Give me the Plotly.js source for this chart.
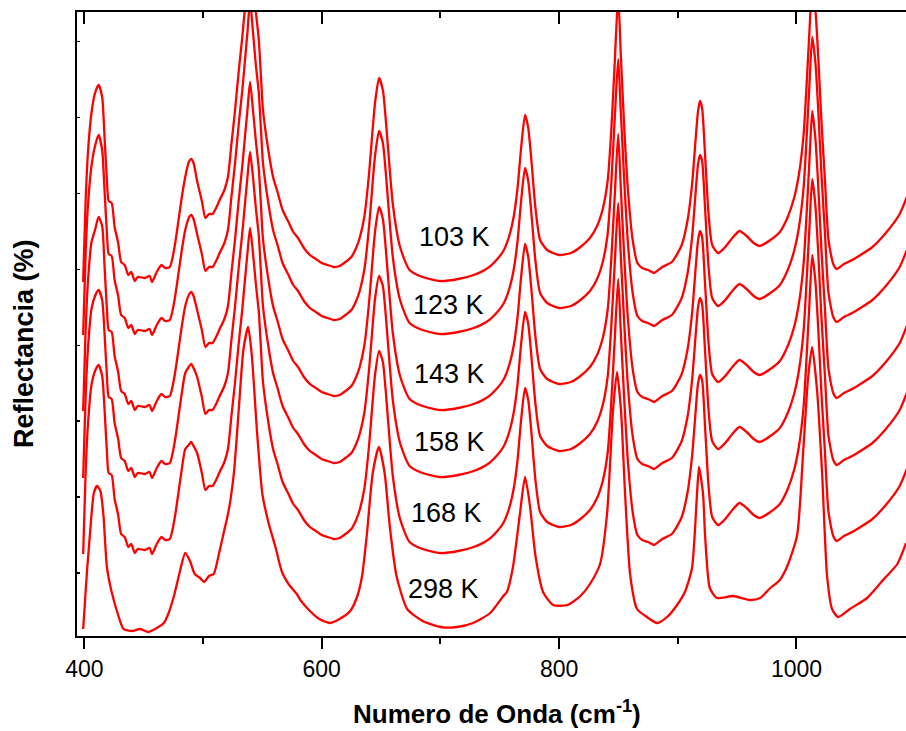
<!DOCTYPE html>
<html>
<head>
<meta charset="utf-8">
<script src="https://cdn.plot.ly/plotly-3.0.1.min.js"></script>
<style>html,body{margin:0;padding:0;background:#fff;}#chart{width:906px;height:731px;}</style>
</head>
<body>
<div id="chart"></div>
<script>
// Wavenumber grid (cm-1) shared by the 103-168 K spectra
var waveNumbers = [399,401,403,406,409,412,415,417,419,420.5,423,425.5,428.5,431,434,437,439.5,442.5,445,451,455,457,461,465,468,472,476,479,482,485,488,490,492,495,499,502,505,508,511,514,518,521,524,527,530,533,535,537.5,539.6,542,544.5,547,548.5,550.5,555,559,563,567,572,576,580,585,590,595,600,605,610,615,620,625,629,632,636,640,643,645,648.3,651.5,654,656,660,666,674,685,700,715,728,740,748,753,758,762,765,768,771.3,774,777,780,784,790,800,810,818,826,832,837,841,844,847,849.8,852,855,858,862,866,870,875,880,887,895,903,908,912,915,917,918.7,920.5,923,926,929,934,940,946,952,958,964,969,978,986,993,998,1002,1006,1009,1011,1013.3,1016,1018.5,1021,1024,1027,1031,1034,1040,1047,1054,1064,1076,1087,1093];

// Reflectance (arbitrary units, curves stacked)
var r103 = [354,433,483,523,543,551,539,499,456,435,433,409,393,374,371,361,364,355,359,358,360,354,364,371,368,369,389,413,438,459,474,477,473,455,435,418,422,422,428,436,446,459,493,526,564,598,624,651,671,651,624,596,566,526,486,459,443,426,414,404,398,388,381,377,373,371,369,370,374,379,388,398,420,464,508,534,558,546,516,486,431,389,366,359,355,357,361,368,377,385,400,421,448,488,521,508,471,429,396,386,381,383,389,398,410,428,456,506,576,641,581,506,446,396,373,368,366,363,369,374,390,414,451,496,524,535,528,481,421,391,383,389,398,405,400,393,390,396,404,420,438,461,501,561,606,652,626,576,516,456,396,372,367,372,376,381,389,404,422,439];
var r123 = [301,380,430,470,490,501,486,446,403,382,380,356,340,321,318,308,311,302,306,305,307,301,311,318,315,316,336,360,385,406,418,421,417,402,382,365,369,369,375,383,393,406,440,473,511,545,571,605,636,605,571,543,513,473,433,406,390,373,361,351,345,335,328,324,320,318,316,317,321,326,335,345,367,411,455,481,505,493,463,433,378,336,313,306,302,304,308,315,324,332,347,368,395,435,468,455,418,376,343,333,328,330,336,345,357,375,403,453,520,577,524,453,393,343,320,315,313,310,316,321,337,361,398,443,471,481,475,428,368,338,330,336,345,352,347,340,337,343,351,367,385,408,448,508,553,599,573,523,463,403,343,319,314,319,323,328,336,351,369,386];
var r143 = [225,304,354,394,406,419,410,370,327,306,304,280,264,245,242,232,235,226,230,229,231,225,235,242,239,240,260,284,309,330,341,344,340,326,306,289,293,293,299,307,317,330,364,397,435,469,495,527,554,527,495,467,437,397,357,330,314,297,285,275,269,259,252,248,244,242,240,241,245,250,259,269,291,335,379,405,429,417,387,357,302,260,237,230,226,228,232,239,248,256,271,292,319,359,392,379,342,300,267,257,252,254,260,269,281,299,327,377,443,502,448,377,317,267,244,239,237,234,240,245,261,285,322,367,395,405,399,352,292,262,254,260,269,276,271,264,261,267,275,291,309,332,372,432,477,525,497,447,387,327,267,243,238,243,247,252,260,275,293,310];
var r158 = [158,237,287,327,340,346,336,303,260,239,237,213,197,178,175,165,168,159,163,162,164,158,168,175,172,173,193,217,242,263,269,272,268,259,239,222,226,226,232,240,250,263,297,330,368,402,428,460,484,460,428,400,370,330,290,263,247,230,218,208,202,192,185,181,177,175,173,174,178,183,192,202,224,268,312,338,360,350,320,290,235,193,170,163,159,161,165,172,181,189,204,225,252,292,324,312,275,233,200,190,185,187,193,202,214,232,260,310,375,433,380,310,250,200,177,172,170,167,173,178,194,218,255,300,328,338,332,285,225,195,187,193,202,209,204,197,194,200,208,224,242,265,305,365,410,457,430,380,320,260,200,176,171,176,180,185,193,208,226,243];
var r168 = [82,161,211,251,265,271,260,227,184,163,161,137,121,102,99,89,92,83,87,86,88,82,92,99,96,97,117,141,166,187,191,194,190,183,163,146,150,150,156,164,174,187,221,254,292,326,352,384,408,384,352,324,294,254,214,187,171,154,142,132,126,116,109,105,101,99,97,98,102,107,116,126,148,192,236,262,285,274,244,214,159,117,94,87,83,85,89,96,105,113,128,149,176,216,248,236,199,157,124,114,109,111,117,126,138,156,184,234,299,357,304,234,174,124,101,96,94,91,97,102,118,142,179,224,252,261,256,209,149,119,111,117,126,133,128,121,118,124,132,148,166,189,229,289,334,381,354,304,244,184,124,100,95,100,104,109,117,132,150,167];

// 298 K spectrum (own grid)
var waveNumbers298 = [399,402,405,408,410.7,413.5,416,419,423,429,433,440,447,454,461,467,471,475.5,480,485,489,493,497.5,501,505,509,513,517,521.7,526,530,534,538,541,545.5,550,555,561,566.5,572,579,582,590,598,607,615,624,630,634,638,643,648.2,653,657.4,663,672,685,700,714,727.5,742,753,756,761,767,771.3,775.5,780,786.5,795,807,818,826,834.5,840.4,845.4,848.8,852.2,855.6,860,865.7,874,882.6,891,899.4,906,912,916.2,917.9,921.3,923,927,933,946.6,961,969.4,978,986,993,1000.6,1005.6,1009.8,1013.2,1017.4,1021.6,1025.8,1030,1035,1045,1059.5,1073,1085,1092.4];
var r298 = [7,61,106,143,150,145,122,69,44,19,7,5,7,4,8,13,23,40,62,83,75,62,58,54,60,62,80,101,126,163,225,286,309,282,204,142,114,89,64,52,42,36,25,17,13,17,25,40,60,101,163,189,163,109,60,27,15,9,9,13,23,40,44,68,122,159,130,81,44,31,31,40,52,72,122,225,264,225,142,60,27,19,13,19,31,44,68,142,169,142,101,48,38,40,36,38,48,56,72,101,183,258,289,245,163,60,27,19,27,38,56,72,93];

var temperatureLabels = ['103 K','123 K','143 K','158 K','168 K','298 K'];
var xTitle = 'Numero de Onda (cm<sup>-1</sup>)';
var yTitle = 'Reflectancia (%)';

var series = [
  {x: waveNumbers, y: r103},
  {x: waveNumbers, y: r123},
  {x: waveNumbers, y: r143},
  {x: waveNumbers, y: r158},
  {x: waveNumbers, y: r168},
  {x: waveNumbers298, y: r298}
];

var FONT = 'Liberation Sans, Arial, Helvetica, sans-serif';
var traces = series.map(function (s, i) {
  return {
    type: 'scatter', mode: 'lines', x: s.x, y: s.y, name: temperatureLabels[i],
    // the last spectrum sits on the identical top axis so that axis (inward ticks) is drawn
    xaxis: i === series.length - 1 ? 'x2' : 'x', yaxis: 'y',
    line: {color: '#ff0000', width: 2.3, shape: 'spline', smoothing: 0.6},
    hoverinfo: 'skip', showlegend: false
  };
});

// label anchor positions (x in cm-1, y in plotted units)
var labelPos = [[711.5, 399], [706.7, 331.5], [707.7, 262], [707.7, 194], [705, 123], [703, 47]];
var annotations = temperatureLabels.map(function (t, i) {
  return {text: t, x: labelPos[i][0], y: labelPos[i][1], xref: 'x', yref: 'y',
          showarrow: false, xanchor: 'center', yanchor: 'middle',
          font: {family: FONT, size: 27, color: '#000'}};
});
annotations.push({text: xTitle, xref: 'paper', yref: 'paper', x: 0.5072, y: -0.1218,
  xanchor: 'center', yanchor: 'middle', showarrow: false,
  font: {family: FONT, size: 26, color: '#000', weight: 700}});
annotations.push({text: yTitle, xref: 'paper', yref: 'paper', x: -0.0639, y: 0.468,
  xanchor: 'center', yanchor: 'middle', showarrow: false, textangle: -90,
  font: {family: FONT, size: 27, color: '#000', weight: 700}});

var xr = [393.8, 1092.3];
var layout = {
  width: 906, height: 731,
  margin: {l: 77, r: 0, t: 12, b: 95, pad: 0},
  paper_bgcolor: '#fff', plot_bgcolor: '#fff',
  showlegend: false,
  xaxis: {
    range: xr, tick0: 400, dtick: 200, ticks: 'outside', ticklen: 11, tickwidth: 2, tickcolor: '#000',
    showline: true, linewidth: 2, linecolor: '#000', showgrid: false, zeroline: false,
    tickfont: {family: FONT, size: 23, color: '#000'},
    minor: {tick0: 400, dtick: 100, ticks: 'outside', ticklen: 6, tickwidth: 2, tickcolor: '#000', showgrid: false},
    fixedrange: true
  },
  xaxis2: {
    overlaying: 'x', side: 'top', anchor: 'y', range: xr, tick0: 400, dtick: 200,
    ticks: 'inside', ticklen: 12, tickwidth: 2, tickcolor: '#000',
    showline: true, linewidth: 2, linecolor: '#000', showgrid: false, zeroline: false,
    showticklabels: false,
    minor: {tick0: 400, dtick: 100, ticks: 'inside', ticklen: 6, tickwidth: 2, tickcolor: '#000', showgrid: false},
    fixedrange: true
  },
  yaxis: {
    range: [0, 624], tick0: 63, dtick: 75.9, ticks: 'inside', ticklen: 3, tickwidth: 1.5, tickcolor: '#000',
    showline: true, linewidth: 2, linecolor: '#000', showgrid: false, zeroline: false,
    showticklabels: false, fixedrange: true
  },
  annotations: annotations
};

Plotly.newPlot('chart', traces, layout, {displayModeBar: false, staticPlot: true});
</script>
</body>
</html>
